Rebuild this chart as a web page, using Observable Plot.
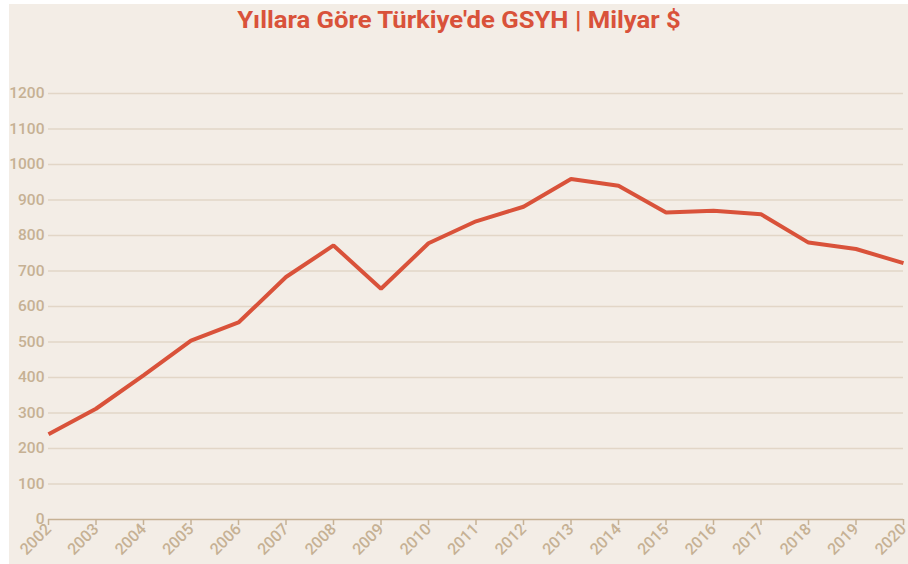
<!DOCTYPE html>
<html>
<head>
<meta charset="utf-8">
<script src="https://cdn.jsdelivr.net/npm/d3@7"></script>
<script src="https://cdn.jsdelivr.net/npm/@observablehq/plot@0.6"></script>
<style>
  html, body { margin: 0; padding: 0; background: #ffffff; }
  #wrap { position: absolute; left: 9px; top: 4px; width: 899px; height: 560px; background: #f3ede6; overflow: hidden; }
  #title { position: absolute; left: 0; top: 2px; width: 100%; text-align: center; font-family: Roboto, sans-serif; font-weight: 700; font-size: 24px; color: #d9523a; transform: scaleX(1.07); transform-origin: 442px 0; white-space: nowrap; }
  #chart { position: absolute; left: 0; top: 36px; }
</style>
</head>
<body>
<div id="wrap">
  <div id="title">Yıllara Göre Türkiye'de GSYH | Milyar $</div>
  <div id="chart"></div>
</div>
<script>
const years = [2002,2003,2004,2005,2006,2007,2008,2009,2010,2011,2012,2013,2014,2015,2016,2017,2018,2019,2020];
const gdp = [240,312,406,504,555,683,772,650,778,840,881,959,940,865,870,860,780,762,722];
const yTicks = [0,100,200,300,400,500,600,700,800,900,1000,1100,1200];

const data = years.map((y, i) => ({year: y, value: gdp[i]}));
const axisColor = "#c6b194";

const chart = Plot.plot({
  width: 899,
  height: 524,
  marginLeft: 39,
  marginRight: 5,
  marginTop: 53,
  marginBottom: 45,
  style: {background: "transparent", fontFamily: "Roboto, sans-serif", color: axisColor, overflow: "visible"},
  x: {type: "linear", domain: [2002, 2020], ticks: years, tickFormat: d => String(d), label: null},
  y: {domain: [0, 1200], ticks: yTicks, tickFormat: d => String(d), label: null},
  marks: [
    Plot.gridY(yTicks.filter(d => d > 0), {stroke: "#e2d6c7", strokeOpacity: 1, strokeWidth: 1.5}),
    Plot.axisY({ticks: yTicks, tickFormat: d => String(d), tickSize: 0, tickPadding: 4, fontSize: 15.5, fontWeight: 500, fill: axisColor, label: null}),
    Plot.ruleY([0], {stroke: axisColor, strokeWidth: 1.5}),
    Plot.axisX({ticks: years, tickFormat: d => String(d), tickSize: 6, tickPadding: 1, tickRotate: -45, fontSize: 16, fontWeight: 500, fill: axisColor, stroke: axisColor, strokeWidth: 1.5, label: null}),
    Plot.line(data, {x: "year", y: "value", stroke: "#d9523a", strokeWidth: 4, strokeLinejoin: "miter", strokeLinecap: "butt"})
  ]
});
document.getElementById("chart").appendChild(chart);
</script>
</body>
</html>
